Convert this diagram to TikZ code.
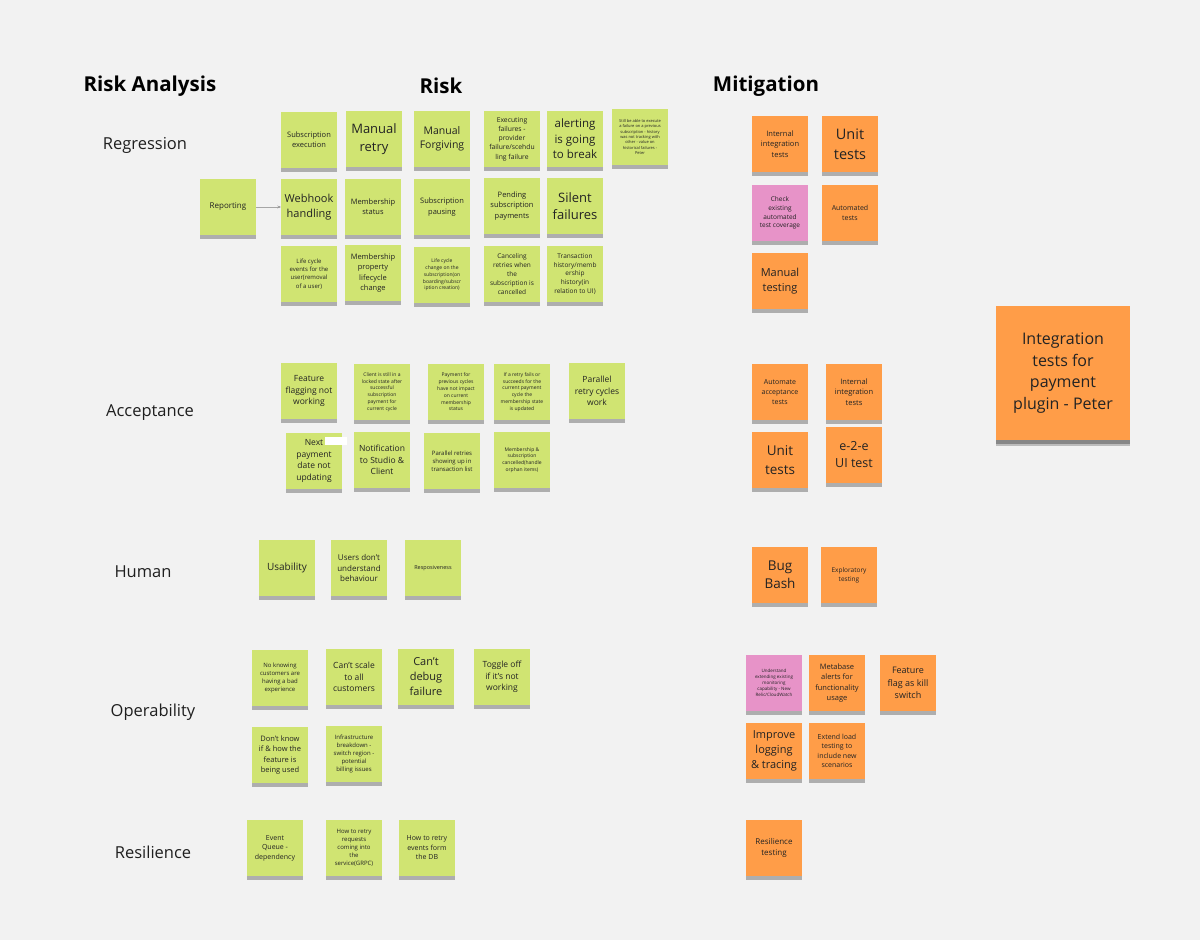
\documentclass[tikz,border=0pt]{standalone}
\usepackage{fontspec}
\setmainfont{Open Sans}
\usepackage{tikz}
\usetikzlibrary{shadows, arrows.meta, positioning}

\definecolor{boardgray}{RGB}{242,242,242}
\definecolor{stickygreen}{RGB}{208,228,114}
\definecolor{stickyorange}{RGB}{255,157,72}
\definecolor{stickypink}{RGB}{231,147,200}
\definecolor{inkgray}{RGB}{35,35,35}

\begin{document}
\begin{tikzpicture}[x=1pt, y=-1pt, >={Stealth[length=3.5pt, width=3pt]},
    fs/.style={font=\pgfmathsetmacro\lsk{1.36*#1}\fontsize{#1}{\lsk}\selectfont},
    note/.style={rectangle, minimum width=56pt, minimum height=56pt, inner sep=1pt,
        align=center, text=inkgray,
        drop shadow={shadow xshift=0pt, shadow yshift=-4pt, xscale=0.86, fill=black, opacity=0.28}},
    risk/.style={note, fill=stickygreen},
    mitig/.style={note, fill=stickyorange},
    check/.style={note, fill=stickypink},
    heading/.style={font=\fontsize{20.5}{24}\selectfont\bfseries, text=black},
    category/.style={font=\fontsize{16.5}{20}\selectfont, text=black!88}]

    \fill[boardgray] (0,0) rectangle (1200,940);
    \useasboundingbox (0,0) rectangle (1200,940);

    % headings
    \node[heading] (hAnalysis) at (150,86) {Risk Analysis};
    \node[heading] (hRisk) at (441,86) {Risk};
    \node[heading] (hMitig) at (766,86) {Mitigation};

    % categories
    \node[category] (cRegression) at (145,145) {Regression};
    \node[category] (cAcceptance) at (150,413) {Acceptance};
    \node[category] (cHuman) at (143,572) {Human};
    \node[category] (cOperability) at (153,712) {Operability};
    \node[category] (cResilience) at (153,852) {Resilience};

    % regression risks
    \node[risk, fs=7.5] (subExec) at (309,140) {Subscription\\execution};
    \node[risk, fs=13] (manRetry) at (374,139) {Manual\\retry};
    \node[risk, fs=10.5] (manForgive) at (442,139) {Manual\\Forgiving};
    \node[risk, fs=6.8] (execFail) at (512,139) {Executing\\failures -\\provider\\failure/scehdu\\ling failure};
    \node[risk, fs=11.5] (alerting) at (575,139) {alerting\\is going\\to break};
    \node[risk, fs=4] (stillAble) at (640,137) {Still be able to execute\\a failure on a previous\\subscription - history\\was not tracking with\\other - value on\\historical failures -\\Peter};

    \node[risk, fs=8] (report) at (228,207) {Reporting};
    \node[risk, fs=11] (webhook) at (309,207) {Webhook\\handling};
    \node[risk, fs=7.5] (memStatus) at (373,207) {Membership\\status};
    \node[risk, fs=7.5] (subPause) at (442,207) {Subscription\\pausing};
    \node[risk, fs=7.5] (pending) at (512,206) {Pending\\subscription\\payments};
    \node[risk, fs=13] (silent) at (575,206) {Silent\\failures};

    \node[risk, fs=6] (lifeUser) at (309,274) {Life cycle\\events for the\\user(removal\\of a user)};
    \node[risk, fs=7.5] (memLife) at (373,273) {Membership\\property\\lifecycle\\change};
    \node[risk, fs=5] (lifeSub) at (442,275) {Life cycle\\change on the\\subscription(on\\boarding/subscr\\iption creation)};
    \node[risk, fs=6.5] (cancelRetry) at (512,274) {Canceling\\retries when\\the\\subscription is\\cancelled};
    \node[risk, fs=6.5] (history) at (575,274) {Transaction\\history/memb\\ership\\history(in\\relation to UI)};

    \path[->, draw=gray!70, thin] (report) edge (webhook);

    % acceptance risks
    \node[risk, fs=8.5] (flagging) at (309,391) {Feature\\flagging not\\working};
    \node[risk, fs=5] (locked) at (382,392) {Client is still in a\\locked state after\\successful\\subscription\\payment for\\current cycle};
    \node[risk, fs=5] (prevCycles) at (456,392) {Payment for\\previous cycles\\have not impact\\on current\\membership\\status};
    \node[risk, fs=5] (retryState) at (522,392) {If a retry fails or\\succeeds for the\\current payment\\cycle the\\membership state\\is updated};
    \node[risk, fs=8.5] (parCycles) at (597,391) {Parallel\\retry cycles\\work};

    \node[risk, fs=8.5] (nextDate) at (314,461) {Next\\payment\\date not\\updating};
    \fill[white] (325,437) rectangle (347,445);
    \node[risk, fs=8.5] (notify) at (382,460) {Notification\\to Studio \&\\Client};
    \node[risk, fs=6] (parList) at (452,461) {Parallel retries\\showing up in\\transaction list};
    \node[risk, fs=5] (orphan) at (522,460) {Membership \&\\subscription\\cancelled(handle\\orphan items)};

    % human risks
    \node[risk, fs=10] (usability) at (287,568) {Usability};
    \node[risk, fs=8] (behaviour) at (359,568) {Users don't\\understand\\behaviour};
    \node[risk, fs=5.5] (respons) at (433,568) {Resposiveness};

    % operability risks
    \node[risk, fs=6] (badExp) at (280,678) {No knowing\\customers are\\having a bad\\experience};
    \node[risk, fs=8.5] (scale) at (354,677) {Can't scale\\to all\\customers};
    \node[risk, fs=11] (debug) at (426,677) {Can't\\debug\\failure};
    \node[risk, fs=8.5] (toggle) at (502,677) {Toggle off\\if it's not\\working};
    \node[risk, fs=7.5] (usage) at (280,755) {Don't know\\if \& how the\\feature is\\being used};
    \node[risk, fs=6] (infra) at (354,754) {Infrastructure\\breakdown -\\switch region -\\potential\\billing issues};

    % resilience risks
    \node[risk, fs=7] (queue) at (275,848) {Event\\Queue -\\dependency};
    \node[risk, fs=6] (grpc) at (354,848) {How to retry\\requests\\coming into\\the\\service(GRPC)};
    \node[risk, fs=7] (dbRetry) at (427,848) {How to retry\\events form\\the DB};

    % regression mitigations
    \node[mitig, fs=7.5] (mIntReg) at (780,144) {Internal\\integration\\tests};
    \node[mitig, fs=14.5] (mUnitReg) at (850,144) {Unit\\tests};
    \node[check, fs=6.5] (mCoverage) at (780,213) {Check\\existing\\automated\\test coverage};
    \node[mitig, fs=7] (mAuto) at (850,213) {Automated\\tests};
    \node[mitig, fs=11] (mManual) at (780,281) {Manual\\testing};

    % acceptance mitigations
    \node[mitig, fs=7] (mAccept) at (780,392) {Automate\\acceptance\\tests};
    \node[mitig, fs=7.5] (mIntAcc) at (854,392) {Internal\\integration\\tests};
    \node[mitig, fs=13.5] (mUnitAcc) at (780,460) {Unit\\tests};
    \node[mitig, fs=12.5] (mE2e) at (854,455) {e-2-e\\UI test};

    % human mitigations
    \node[mitig, fs=13.5] (mBugBash) at (780,575) {Bug\\Bash};
    \node[mitig, fs=6.5] (mExplore) at (849,575) {Exploratory\\testing};

    % operability mitigations
    \node[check, fs=4.5] (mMonitor) at (774,683) {Understand\\extending existing\\monitoring\\capability - New\\Relic/CloudWatch};
    \node[mitig, fs=7.5] (mMetabase) at (837,683) {Metabase\\alerts for\\functionality\\usage};
    \node[mitig, fs=9] (mKill) at (908,683) {Feature\\flag as kill\\switch};
    \node[mitig, fs=11] (mLogging) at (774,751) {Improve\\logging\\\& tracing};
    \node[mitig, fs=7] (mLoad) at (837,751) {Extend load\\testing to\\include new\\scenarios};

    % resilience mitigation
    \node[mitig, fs=8] (mResil) at (774,848) {Resilience\\testing};

    % plugin note
    \node[mitig, fs=16, minimum width=134pt, minimum height=134pt,
        drop shadow={shadow xshift=0pt, shadow yshift=-6pt, xscale=0.9, fill=black, opacity=0.22}]
        (plugin) at (1063,373) {Integration\\tests for\\payment\\plugin - Peter};
\end{tikzpicture}
\end{document}
